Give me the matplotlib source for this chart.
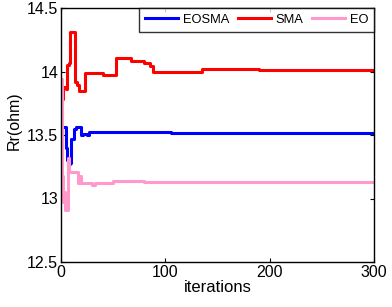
import matplotlib
matplotlib.use("Agg")
import matplotlib.pyplot as plt
from matplotlib.ticker import FuncFormatter

plt.rcParams['font.family'] = ['Liberation Sans', 'DejaVu Sans']

# --- data (step values) ---
eosma_iter = [0, 1, 4, 5, 6, 7, 9, 10, 12, 14, 18, 19, 21, 25, 27, 100, 105, 300]
eosma_rr = [13.28, 13.56, 13.56, 13.40, 13.30, 13.27, 13.28, 13.47, 13.55, 13.56,
            13.56, 13.50, 13.51, 13.50, 13.52, 13.52, 13.515, 13.515]

sma_iter = [0, 1, 2, 5, 6, 8, 9, 12, 13, 15, 17, 22, 23, 40, 53, 67, 80, 85, 88, 135, 190, 300]
sma_rr = [13.30, 13.78, 13.88, 13.86, 14.05, 14.07, 14.31, 14.31, 13.92, 13.89, 13.85,
          13.85, 13.99, 13.97, 14.11, 14.08, 14.07, 14.04, 14.00, 14.02, 14.01, 14.01]

eo_iter = [0, 1, 2, 3, 4, 6, 7, 8, 15, 16, 18, 19, 30, 33, 50, 80, 300]
eo_rr = [13.94, 13.18, 12.97, 13.05, 12.91, 12.91, 13.32, 13.21, 13.21, 13.12, 13.18,
         13.12, 13.11, 13.12, 13.14, 13.13, 13.13]

fig = plt.figure(figsize=(3.92, 3.07), dpi=100)
ax = fig.add_axes([61 / 392, 1 - 262 / 307, 313 / 392, 254 / 307])

ax.plot(eosma_iter, eosma_rr, drawstyle='steps-post', color='#0000ff', lw=2.2, label='EOSMA')
ax.plot(sma_iter, sma_rr, drawstyle='steps-post', color='#ff0000', lw=2.2, label='SMA')
ax.plot(eo_iter, eo_rr, drawstyle='steps-post', color='#ff99cc', lw=2.2, label='EO')

ax.set_xlim(0, 300)
ax.set_ylim(12.5, 14.5)
ax.set_xticks([0, 100, 200, 300])
ax.set_yticks([12.5, 13, 13.5, 14, 14.5])
ax.yaxis.set_major_formatter(FuncFormatter(lambda v, p: f"{v:g}"))
ax.tick_params(direction='in', top=True, right=True, labelsize=11.5, length=3, width=0.8, pad=2)
for s in ax.spines.values():
    s.set_linewidth(1.0)

ax.set_xlabel('iterations', fontsize=12, labelpad=0)
ax.set_ylabel('Rr(ohm)', fontsize=11.5)
ax.yaxis.set_label_coords(-39 / 313, 0.555)

leg = ax.legend(loc='upper right', ncol=3, fontsize=9.3, frameon=True, fancybox=False,
                edgecolor='black', borderaxespad=0, handlelength=2.55, columnspacing=0.62,
                handletextpad=0.4, borderpad=0.45)
leg.get_frame().set_linewidth(1.0)

fig.savefig('out.png', dpi=100)
